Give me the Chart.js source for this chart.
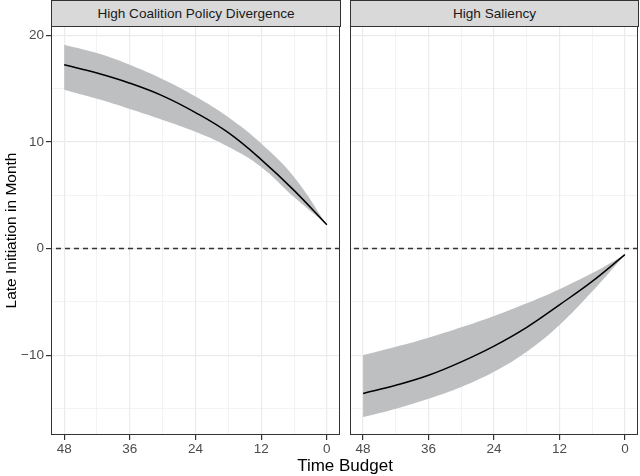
<!DOCTYPE html>
<html>
<head>
<meta charset="utf-8">
<script src="https://cdn.jsdelivr.net/npm/chart.js@4"></script>
<style>
  body { margin: 0; background: #fff; font-family: "Liberation Sans", Arial, sans-serif; }
  #wrap { position: relative; width: 640px; height: 476px; overflow: hidden; }
  .panel { position: absolute; top: 26px; height: 450px; }
  .strip { position: absolute; top: 0; height: 27px; box-sizing: border-box; border: 1px solid #333;
           background: #d9d9d9; color: #1a1a1a; font-size: 13.6px; line-height: 25px; text-align: center; }
  #xtitle { position: absolute; left: 0; width: 690px; top: 456px; text-align: center; font-size: 17px; color: #000; }
</style>
</head>
<body>
<div id="wrap">
  <div class="strip" style="left:51px;width:290px">High Coalition Policy Divergence</div>
  <div class="strip" style="left:350px;width:289px">High Saliency</div>
  <div class="panel" style="left:0;width:342px"><canvas id="left" width="342" height="450"></canvas></div>
  <div class="panel" style="left:345px;width:295px"><canvas id="right" width="295" height="450"></canvas></div>
  <div id="xtitle">Time Budget</div>
</div>
<script>
// time budget (months)
const timeBudget = [48, 42, 36, 30, 24, 18, 12, 6, 0];

const divergenceFit  = [17.26, 16.48, 15.53, 14.34, 12.77, 10.88, 8.36, 5.47, 2.23];
const divergenceHigh = [19.15, 18.36, 17.26, 15.90, 14.28, 12.33, 9.87, 6.73, 2.23];
const divergenceLow  = [14.91, 14.06, 13.11, 12.08, 10.97, 9.56, 7.67, 4.84, 2.23];

const saliencyFit  = [-13.60, -12.83, -11.89, -10.63, -9.15, -7.39, -5.28, -3.08, -0.57];
const saliencyHigh = [-10.00, -9.21, -8.36, -7.39, -6.32, -5.13, -3.81, -2.30, -0.57];
const saliencyLow  = [-15.82, -15.03, -14.09, -12.99, -11.57, -9.69, -7.17, -4.03, -0.57];

const xMajor = [0, 12, 24, 36, 48];
const xAll = [0, 6, 12, 18, 24, 30, 36, 42, 48];
const yMajor = [-10, 0, 10, 20];
const yAll = [-15, -10, -5, 0, 5, 10, 15, 20];

const xLimits = [-2.4, 50.4];
const yLimits = [-17.5, 20.9];

const pts = (ys) => timeBudget.map((x, i) => ({ x: x, y: ys[i] }));

// panel border like theme_bw
const panelBorder = {
  id: 'panelBorder',
  afterDraw(chart) {
    const a = chart.chartArea, ctx = chart.ctx;
    ctx.save();
    ctx.strokeStyle = '#333333';
    ctx.lineWidth = 1;
    ctx.strokeRect(a.left + 0.5, a.top + 0.5, a.right - a.left - 1, a.bottom - a.top - 1);
    ctx.restore();
  }
};

function gridOpts(major) {
  return {
    color: '#ebebeb',
    lineWidth: (c) => (c.tick && major.includes(c.tick.value)) ? 1.2 : 0.6,
    tickColor: (c) => (c.tick && major.includes(c.tick.value)) ? '#333333' : 'rgba(0,0,0,0)',
    tickLength: 5,
    drawTicks: true
  };
}

function makePanel(id, fit, low, high, showY) {
  new Chart(document.getElementById(id), {
    type: 'line',
    data: {
      datasets: [
        { data: pts(fit), borderColor: '#000', borderWidth: 1.5, pointRadius: 0,
          tension: 0.4, fill: false },
        { data: [{ x: xLimits[0], y: 0 }, { x: xLimits[1], y: 0 }], borderColor: '#333',
          borderWidth: 1.5, borderDash: [5, 4], pointRadius: 0, fill: false },
        { data: pts(high), borderWidth: 0, borderColor: 'rgba(0,0,0,0)', pointRadius: 0,
          tension: 0.4, fill: '+1', backgroundColor: '#bebfc0' },
        { data: pts(low), borderWidth: 0, borderColor: 'rgba(0,0,0,0)', pointRadius: 0,
          tension: 0.4, fill: false }
      ]
    },
    options: {
      responsive: false,
      animation: false,
      layout: { padding: { left: 0, right: 2, top: 0, bottom: 0 } },
      plugins: { legend: { display: false }, tooltip: { enabled: false } },
      scales: {
        x: {
          type: 'linear', reverse: true, min: xLimits[0], max: xLimits[1],
          afterBuildTicks: (s) => { s.ticks = xAll.map(v => ({ value: v })); },
          afterFit: (s) => { s.height = 41; s.paddingLeft = 0; s.paddingRight = 0; },
          grid: gridOpts(xMajor),
          border: { display: false },
          ticks: {
            autoSkip: false, maxRotation: 0, padding: 1,
            color: '#4d4d4d', font: { family: 'Liberation Sans', size: 13.5 },
            callback: (v) => xMajor.includes(v) ? String(v) : ''
          }
        },
        y: {
          type: 'linear', min: yLimits[0], max: yLimits[1],
          afterBuildTicks: (s) => { s.ticks = yAll.map(v => ({ value: v })); },
          afterFit: (s) => { s.width = showY ? 51 : 5; s.paddingTop = 0; s.paddingBottom = 0; },
          grid: showY ? gridOpts(yMajor) : Object.assign(gridOpts(yMajor), { drawTicks: false }),
          border: { display: false },
          title: {
            display: showY, text: 'Late Initiation in Month', color: '#000',
            font: { family: 'Liberation Sans', size: 15.5 }, padding: { top: 2, bottom: 0 }
          },
          ticks: {
            display: showY, autoSkip: false, padding: 2,
            color: '#4d4d4d', font: { family: 'Liberation Sans', size: 13.5 },
            callback: (v) => yMajor.includes(v) ? (v < 0 ? '\u2212' + Math.abs(v) : String(v)) : ''
          }
        }
      }
    },
    plugins: [panelBorder]
  });
}

makePanel('left', divergenceFit, divergenceLow, divergenceHigh, true);
makePanel('right', saliencyFit, saliencyLow, saliencyHigh, false);
</script>
</body>
</html>
